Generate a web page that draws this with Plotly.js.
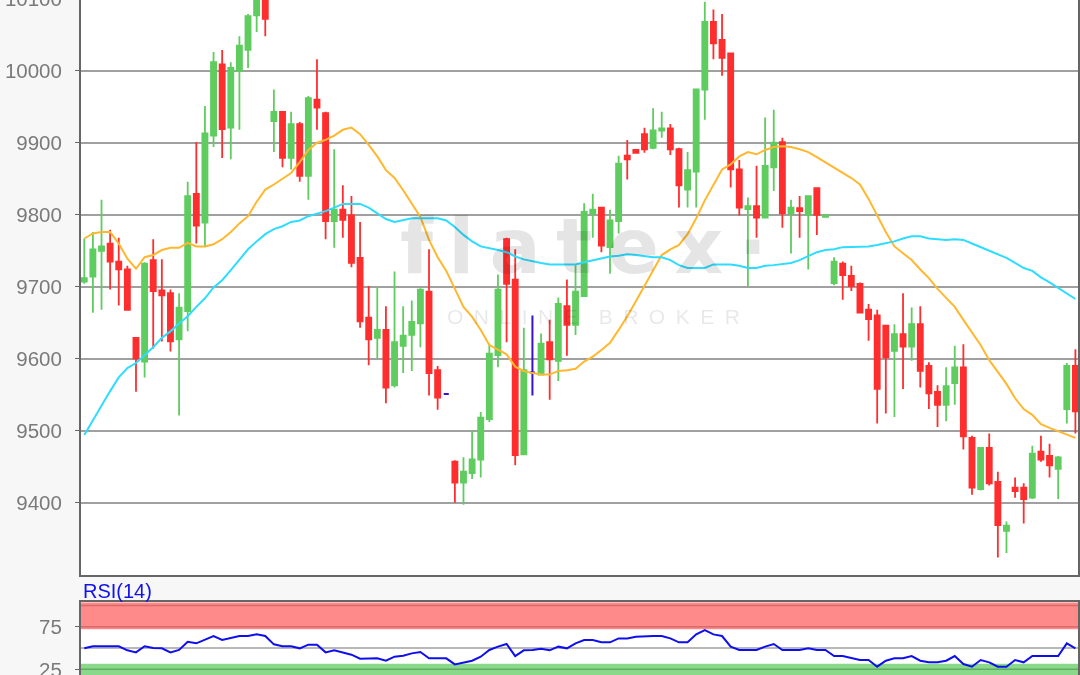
<!DOCTYPE html>
<html>
<head>
<meta charset="utf-8">
<script src="https://cdn.plot.ly/plotly-3.0.1.min.js"></script>
<style>
  html, body { margin: 0; padding: 0; width: 1080px; height: 675px; overflow: hidden; background: #f7f7f7; }
  #chart { position: absolute; left: 0; top: -30px; width: 1080px; height: 730px; filter: blur(0.55px); }
</style>
</head>
<body>
<div id="chart"></div>
<script>
const opens = [9707,9714,9750,9760,9735,9724,9629,9596,9737,9695,9691,9627,9666,9829,9789,9910,10009,9921,10000,10029,10077,10118,9930,9943,9879,9926,9854,9960,9941,9791,9807,9799,9740,9657,9629,9640,9563,9618,9633,9649,9693,9584,9551,9457,9428,9441,9460,9516,9605,9766,9710,9467,9581,9578,9623,9597,9673,9647,9687,9802,9810,9755,9791,9882,9890,9912,9893,9917,9920,9891,9835,9860,9974,10068,10043,10024,9863,9808,9812,9796,9866,9901,9802,9809,9800,9837,9797,9705,9732,9715,9704,9668,9660,9646,9611,9634,9617,9648,9590,9554,9536,9566,9588,9490,9419,9476,9429,9361,9421,9421,9407,9471,9465,9447,9530,9590];
const highs = [9767,9776,9821,9779,9768,9729,9630,9734,9766,9738,9696,9691,9846,9901,9951,10026,10029,10012,10048,10079,10130,10130,9974,9943,9943,9929,9965,10016,9943,9891,9841,9826,9790,9701,9699,9673,9721,9673,9681,9698,9752,9590,9551,9459,9463,9500,9526,9621,9717,9768,9752,9643,9660,9635,9654,9685,9710,9730,9816,9829,9811,9807,9882,9904,9890,9921,9948,9943,9926,9893,9887,9974,10096,10085,10079,10024,9876,9824,9868,9935,9946,9907,9821,9826,9826,9837,9799,9741,9735,9729,9706,9676,9668,9646,9648,9691,9671,9673,9595,9563,9588,9618,9620,9493,9476,9496,9443,9374,9435,9427,9479,9493,9482,9465,9594,9613];
const lows = [9704,9664,9668,9696,9674,9668,9554,9574,9614,9624,9610,9521,9638,9760,9755,9894,9879,9877,9918,10004,10054,10048,9887,9866,9863,9846,9821,9918,9766,9754,9768,9727,9643,9591,9601,9538,9560,9580,9583,9616,9549,9529,9551,9400,9397,9433,9435,9512,9588,9623,9452,9467,9549,9578,9543,9569,9604,9633,9686,9768,9748,9718,9774,9849,9886,9886,9891,9907,9883,9810,9810,9810,9932,10016,9993,9838,9799,9701,9768,9795,9833,9782,9746,9768,9724,9772,9797,9702,9682,9694,9664,9625,9510,9524,9519,9558,9597,9560,9530,9505,9513,9536,9474,9411,9417,9424,9324,9330,9407,9371,9405,9457,9435,9405,9510,9496];
const closes = [9712,9752,9756,9735,9724,9668,9600,9732,9694,9688,9624,9671,9826,9785,9913,10012,9919,10004,10035,10076,10120,10072,9943,9879,9926,9854,9962,9949,9791,9807,9793,9733,9652,9627,9640,9560,9623,9632,9651,9696,9580,9546,9551,9428,9443,9460,9518,9607,9696,9704,9466,9584,9581,9621,9599,9676,9647,9693,9804,9807,9757,9792,9871,9877,9886,9891,9917,9920,9891,9841,9862,9974,10068,10038,10018,9863,9810,9812,9796,9868,9900,9802,9810,9805,9826,9800,9799,9735,9716,9701,9664,9655,9558,9602,9634,9617,9648,9583,9552,9536,9562,9588,9492,9421,9476,9427,9369,9368,9416,9405,9468,9460,9452,9463,9590,9527];
const maFast = [9767,9774,9776,9776,9760,9739,9725,9741,9744,9751,9754,9754,9761,9756,9756,9759,9766,9776,9788,9798,9818,9835,9842,9850,9858,9873,9890,9900,9904,9910,9918,9921,9912,9897,9881,9862,9851,9834,9816,9797,9765,9741,9722,9697,9672,9658,9640,9619,9612,9606,9589,9583,9580,9578,9578,9583,9584,9586,9596,9603,9612,9622,9640,9659,9680,9702,9724,9744,9752,9758,9773,9795,9820,9842,9863,9870,9881,9887,9884,9890,9894,9895,9894,9891,9887,9880,9873,9866,9858,9851,9842,9822,9799,9776,9756,9747,9737,9724,9712,9697,9684,9672,9654,9637,9619,9598,9581,9565,9545,9530,9522,9509,9504,9499,9494,9490];
const maSlow = [9494,9515,9535,9555,9574,9587,9594,9605,9616,9629,9638,9649,9659,9672,9684,9699,9709,9723,9738,9752,9763,9773,9780,9784,9790,9792,9798,9801,9805,9810,9815,9815,9815,9810,9802,9794,9790,9792,9795,9795,9795,9795,9792,9783,9772,9763,9756,9754,9751,9748,9742,9738,9735,9733,9731,9731,9731,9731,9734,9737,9740,9742,9743,9745,9744,9742,9741,9741,9737,9730,9726,9726,9726,9731,9731,9731,9729,9726,9726,9729,9730,9731,9733,9737,9742,9748,9751,9752,9755,9755,9756,9756,9758,9760,9763,9767,9770,9770,9767,9766,9765,9766,9765,9760,9755,9751,9745,9740,9733,9726,9722,9713,9706,9698,9691,9683];
const rsi = [49.6,52,52,52,52,47.3,44.9,52,50,49.6,44.9,47.7,57.4,55.5,60.2,64.1,59.4,62.1,64.1,64.1,66,64.1,54.3,52,52,49.6,53.9,53.9,44.9,47.3,44.9,42.2,37.5,37.9,37.9,35.1,39.8,41,43.7,45.3,37.9,37.9,37.9,30.8,32.8,35.1,39.8,47.7,51.6,54.7,40.6,47.3,47.7,49.2,47.3,51.6,49.6,55.5,59.4,59.4,56.7,56.7,61.3,61.3,63.3,64.1,64.1,64.1,61.3,56.7,56.7,66,71.1,66,64.1,51.6,47.7,47.7,47.7,51.6,54.7,47.7,47.7,47.7,49.6,47.7,47.7,40.6,40.6,37.9,35.9,35.9,28.1,35.1,37.9,37.9,40.6,35.1,33.2,33.2,35.1,40.6,31.2,28.1,35.9,33.2,28.1,28.1,35.9,33.2,40.6,40.6,40.6,40.6,55.5,49.6];
const priceTicks = [9400, 9500, 9600, 9700, 9800, 9900, 10000, 10100];
const rsiTicks = [25, 75];

const xs = opens.map((_, i) => i);
const isDoji = (i) => opens[i] === closes[i];
const plain = xs.filter((i) => !isDoji(i));
const doji = xs.filter(isDoji);
const pick = (arr, idx) => idx.map((i) => arr[i]);

const GREEN = "#5fcc5f";
const RED = "#ff2e2e";
const PURPLE = "#3a10d0";

function candleTrace(idx, upColor, downColor, lineWidth) {
  return {
    type: "candlestick",
    x: idx,
    open: pick(opens, idx),
    high: pick(highs, idx),
    low: pick(lows, idx),
    close: pick(closes, idx),
    whiskerwidth: 0,
    increasing: { line: { color: upColor, width: lineWidth }, fillcolor: upColor },
    decreasing: { line: { color: downColor, width: lineWidth }, fillcolor: downColor },
    hoverinfo: "skip",
  };
}

const traces = [
  candleTrace(plain, GREEN, RED, 1.8),
  candleTrace(doji, PURPLE, PURPLE, 2),
  { type: "scatter", mode: "lines", x: xs, y: maFast, line: { color: "#ffb82e", width: 2 } },
  { type: "scatter", mode: "lines", x: xs, y: maSlow, line: { color: "#2edcff", width: 2 } },
  { type: "scatter", mode: "lines", x: xs, y: rsi, xaxis: "x2", yaxis: "y2", line: { color: "#0f0fee", width: 2 } },
];

const tickFont = { family: "Liberation Sans", size: 20.5, color: "#7a7a7a" };
const frame = { showline: true, linecolor: "#666666", linewidth: 2, mirror: true, zeroline: false };

const rsiLine = (value, color) => ({
  type: "line", xref: "x2", yref: "y2", x0: -0.38, x1: 115.3, y0: value, y1: value,
  line: { color: color, width: 1.5 }, layer: "below",
});
const rsiBand = (y0, y1, color) => ({
  type: "rect", xref: "x2", yref: "y2", x0: -0.38, x1: 115.3, y0: y0, y1: y1,
  fillcolor: color, line: { width: 0 }, layer: "below",
});

const layout = {
  width: 1080,
  height: 730,
  margin: { l: 81, r: 2, t: 0, b: 0, pad: 0 },
  paper_bgcolor: "#f7f7f7",
  plot_bgcolor: "#ffffff",
  showlegend: false,
  boxgap: 0.16,
  xaxis: { ...frame, domain: [0, 1], range: [-0.38, 115.3], showticklabels: false, ticks: "", showgrid: false, rangeslider: { visible: false } },
  yaxis: { ...frame, domain: [0.1712, 1], range: [9299.5, 10140], tickvals: priceTicks, tickformat: "d", tickfont: tickFont, ticks: "outside", ticklen: 4, tickcolor: "#666666", ticklabelstandoff: 9, gridcolor: "#a0a0a0", gridwidth: 2 },
  xaxis2: { ...frame, domain: [0, 1], anchor: "y2", range: [-0.38, 115.3], showticklabels: false, ticks: "", showgrid: false },
  yaxis2: { ...frame, domain: [0, 0.1338], anchor: "x2", range: [-11, 103.6], tickvals: rsiTicks, tickfont: tickFont, ticks: "outside", ticklen: 4, tickcolor: "#666666", ticklabelstandoff: 9, showgrid: false },
  shapes: [
    rsiBand(72, 103.6, "#ff8a8a"),
    rsiBand(-11, 31.5, "#8ad98a"),
    rsiLine(100, "#d86a6a"),
    rsiLine(75, "#d86a6a"),
    rsiLine(25, "#62ad62"),
    rsiLine(50, "#a0a0a0"),
  ],
  annotations: [
    { text: "RSI(14)", xref: "paper", yref: "paper", x: 0, y: 0.149, xanchor: "left", yanchor: "middle", showarrow: false, font: { family: "Liberation Sans", size: 20, color: "#1111ee" } },
    { text: "f\u2009l\u2009a\u2009t\u2009e\u2009x\u2009\u00b7", xref: "x", yref: "y", x: 36.4, y: 9756, xanchor: "left", yanchor: "middle", showarrow: false, font: { family: "DejaVu Sans", weight: 700, size: 76, color: "rgba(0,0,0,0.1)" } },
    { text: "O\u2002N\u2002L\u2002I\u2002N\u2002E\u2002\u2002B\u2002R\u2002O\u2002K\u2002E\u2002R", xref: "x", yref: "y", x: 41.8, y: 9659, xanchor: "left", yanchor: "middle", showarrow: false, font: { family: "Liberation Sans", size: 21, color: "rgba(0,0,0,0.09)" } },
  ],
};

Plotly.newPlot("chart", traces, layout, { displayModeBar: false, staticPlot: true });
</script>
</body>
</html>
